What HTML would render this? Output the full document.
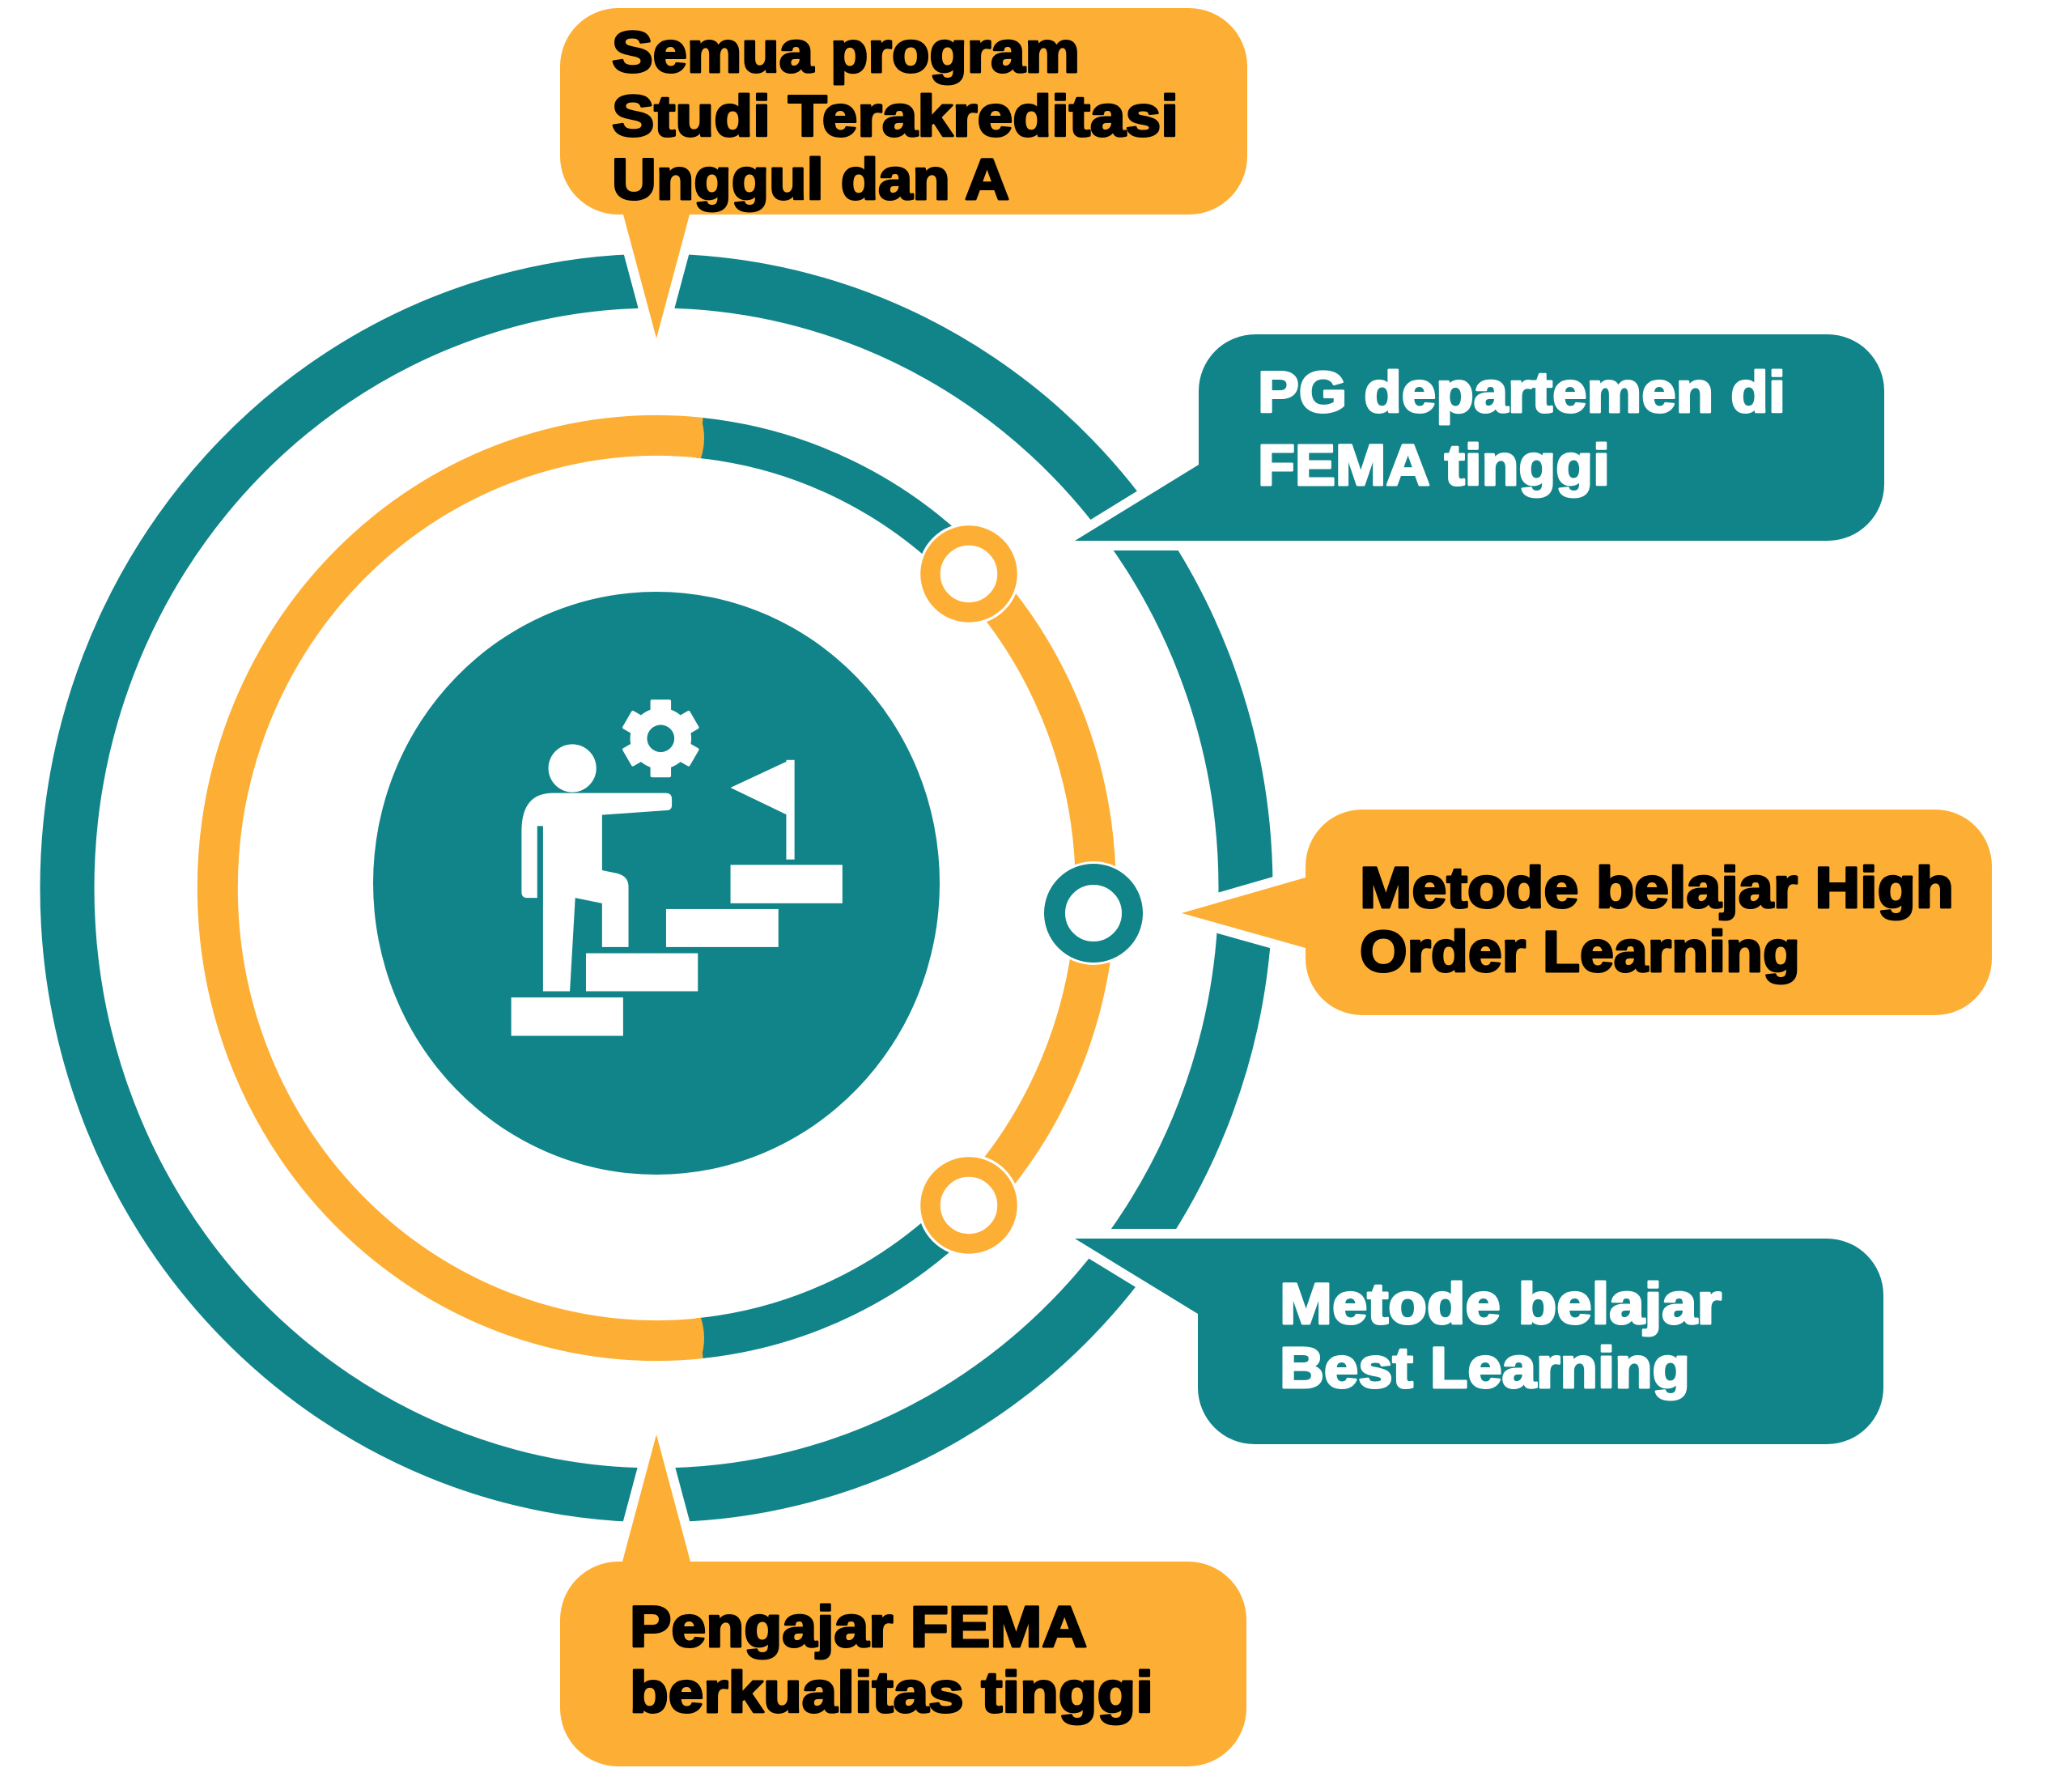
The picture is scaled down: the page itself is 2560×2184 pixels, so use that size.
<!DOCTYPE html>
<html>
<head>
<meta charset="utf-8">
<style>
html,body{margin:0;padding:0;background:#ffffff;width:2560px;height:2184px;overflow:hidden}
svg{display:block}
.t{font-family:"Liberation Sans",Arial,sans-serif;font-weight:bold;font-size:71px}
.tb{fill:#000;stroke:#000;stroke-width:3;stroke-linejoin:round}
.tw{fill:#fff;stroke:#fff;stroke-width:3;stroke-linejoin:round}
</style>
</head>
<body>
<svg width="2560" height="2184" viewBox="0 0 2560 2184" xmlns="http://www.w3.org/2000/svg">
  <!-- outer teal ring -->
  <ellipse cx="811" cy="1097" rx="728" ry="750" fill="none" stroke="#11848A" stroke-width="67"/>

  <!-- middle ring segments -->
  <path d="M 868 1653 A 543 559 0 1 1 868 541" fill="none" stroke="#FDAF35" stroke-width="50"/>
  <path d="M 866 541 A 543 559 0 0 1 1195 702" fill="none" stroke="#11848A" stroke-width="50"/>
  <path d="M 1195 702 A 543 559 0 0 1 1195 1492" fill="none" stroke="#FDAF35" stroke-width="50"/>
  <path d="M 1195 1492 A 543 559 0 0 1 866 1653" fill="none" stroke="#11848A" stroke-width="50"/>
  <!-- slight convex caps at orange/teal transitions -->
  <path d="M 866 516 Q 874 541 866 566 L 860 566 L 860 516 Z" fill="#FDAF35"/>
  <path d="M 866 1628 Q 874 1653 866 1678 L 860 1678 L 860 1628 Z" fill="#FDAF35"/>

  <!-- small node circles -->
  <circle cx="1197" cy="709" r="63" fill="#fff"/>
  <circle cx="1197" cy="709" r="47.5" fill="#fff" stroke="#FDAF35" stroke-width="24.5"/>
  <circle cx="1197" cy="1489" r="63" fill="#fff"/>
  <circle cx="1197" cy="1489" r="47.5" fill="#fff" stroke="#FDAF35" stroke-width="24.5"/>
  <circle cx="1351" cy="1128" r="64" fill="#fff"/>
  <circle cx="1351" cy="1128" r="48" fill="#fff" stroke="#11848A" stroke-width="26"/>

  <!-- central circle -->
  <ellipse cx="811" cy="1091" rx="350" ry="360" fill="#11848A"/>

  <!-- icon -->
  <g transform="translate(400 700) scale(0.5102)" fill="#fff">
    <circle cx="602" cy="488" r="58"/>
    <path d="M 555 548 L 828 548 Q 843 548 843 563 L 843 577 Q 843 590 830 590 L 674 601 L 674 735 L 712 743 Q 738 750 738 775 L 738 921 L 674 921 L 674 815 L 609 802 L 596 1028 L 531 1028 L 531 628 L 517 628 L 517 802 L 493 802 Q 479 802 479 788 L 479 640 Q 479 548 555 548 Z"/>
    <rect x="454" y="1043" width="271" height="93"/>
    <rect x="635" y="936" width="271" height="92"/>
    <rect x="829" y="829" width="272" height="92"/>
    <rect x="985" y="722" width="271" height="93"/>
    <rect x="1120" y="468" width="20" height="241"/>
    <polygon points="1120,472 985,535 1120,600"/>
    <g transform="translate(816 416)">
      <circle r="74"/>
      <rect x="-25" y="-94" width="50" height="40" rx="4"/>
      <rect x="-25" y="-94" width="50" height="40" rx="4" transform="rotate(60)"/>
      <rect x="-25" y="-94" width="50" height="40" rx="4" transform="rotate(120)"/>
      <rect x="-25" y="-94" width="50" height="40" rx="4" transform="rotate(180)"/>
      <rect x="-25" y="-94" width="50" height="40" rx="4" transform="rotate(240)"/>
      <rect x="-25" y="-94" width="50" height="40" rx="4" transform="rotate(300)"/>
      <circle r="33" fill="#11848A"/>
    </g>
  </g>

  <!-- bubble white outlines (cut the rings) -->
  <g fill="#fff" stroke="#fff" stroke-width="24" stroke-linejoin="round">
    <path d="M 764 10 H 1469 A 72 72 0 0 1 1541 82 V 193 A 72 72 0 0 1 1469 265 H 852 L 811 418 L 770 265 H 764 A 72 72 0 0 1 692 193 V 82 A 72 72 0 0 1 764 10 Z"/>
    <path d="M 1551 413 H 2258 A 70 70 0 0 1 2328 483 V 598 A 70 70 0 0 1 2258 668 H 1328 L 1481 574 V 483 A 70 70 0 0 1 1551 413 Z"/>
    <path d="M 1683 1000 H 2391 A 70 70 0 0 1 2461 1070 V 1184 A 70 70 0 0 1 2391 1254 H 1683 A 70 70 0 0 1 1613 1184 V 1171 L 1460 1128 L 1613 1084 V 1070 A 70 70 0 0 1 1683 1000 Z"/>
    <path d="M 1328 1530 H 2257 A 70 70 0 0 1 2327 1600 V 1714 A 70 70 0 0 1 2257 1784 H 1550 A 70 70 0 0 1 1480 1714 V 1623 Z"/>
    <path d="M 692 2001 A 72 72 0 0 1 764 1929 H 769 L 811 1772 L 853 1929 H 1468 A 72 72 0 0 1 1540 2001 V 2110 A 72 72 0 0 1 1468 2182 H 764 A 72 72 0 0 1 692 2110 Z"/>
  </g>

  <!-- bubble fills -->
  <path fill="#FDAF35" d="M 764 10 H 1469 A 72 72 0 0 1 1541 82 V 193 A 72 72 0 0 1 1469 265 H 852 L 811 418 L 770 265 H 764 A 72 72 0 0 1 692 193 V 82 A 72 72 0 0 1 764 10 Z"/>
  <path fill="#11848A" d="M 1551 413 H 2258 A 70 70 0 0 1 2328 483 V 598 A 70 70 0 0 1 2258 668 H 1328 L 1481 574 V 483 A 70 70 0 0 1 1551 413 Z"/>
  <path fill="#FDAF35" d="M 1683 1000 H 2391 A 70 70 0 0 1 2461 1070 V 1184 A 70 70 0 0 1 2391 1254 H 1683 A 70 70 0 0 1 1613 1184 V 1171 L 1460 1128 L 1613 1084 V 1070 A 70 70 0 0 1 1683 1000 Z"/>
  <path fill="#11848A" d="M 1328 1530 H 2257 A 70 70 0 0 1 2327 1600 V 1714 A 70 70 0 0 1 2257 1784 H 1550 A 70 70 0 0 1 1480 1714 V 1623 Z"/>
  <path fill="#FDAF35" d="M 692 2001 A 72 72 0 0 1 764 1929 H 769 L 811 1772 L 853 1929 H 1468 A 72 72 0 0 1 1540 2001 V 2110 A 72 72 0 0 1 1468 2182 H 764 A 72 72 0 0 1 692 2110 Z"/>

  <!-- texts -->
  <g class="t">
    <text class="tb" x="756" y="89" textLength="578" lengthAdjust="spacingAndGlyphs">Semua program</text>
    <text class="tb" x="756" y="168" textLength="700" lengthAdjust="spacingAndGlyphs">Studi Terakreditasi</text>
    <text class="tb" x="756" y="246" textLength="491" lengthAdjust="spacingAndGlyphs">Unggul dan A</text>

    <text class="tw" x="1554" y="509" textLength="652" lengthAdjust="spacingAndGlyphs">PG departemen di</text>
    <text class="tw" x="1554" y="599" textLength="435" lengthAdjust="spacingAndGlyphs">FEMA tinggi</text>

    <text class="tb" x="1680" y="1121" textLength="734" lengthAdjust="spacingAndGlyphs">Metode belajar High</text>
    <text class="tb" x="1680" y="1200" textLength="544" lengthAdjust="spacingAndGlyphs">Order Learning</text>

    <text class="tw" x="1581" y="1635" textLength="546" lengthAdjust="spacingAndGlyphs">Metode belajar</text>
    <text class="tw" x="1581" y="1714" textLength="507" lengthAdjust="spacingAndGlyphs">Best Learning</text>

    <text class="tb" x="778" y="2034" textLength="565" lengthAdjust="spacingAndGlyphs">Pengajar FEMA</text>
    <text class="tb" x="778" y="2115" textLength="647" lengthAdjust="spacingAndGlyphs">berkualitas tinggi</text>
  </g>
</svg>
</body>
</html>
